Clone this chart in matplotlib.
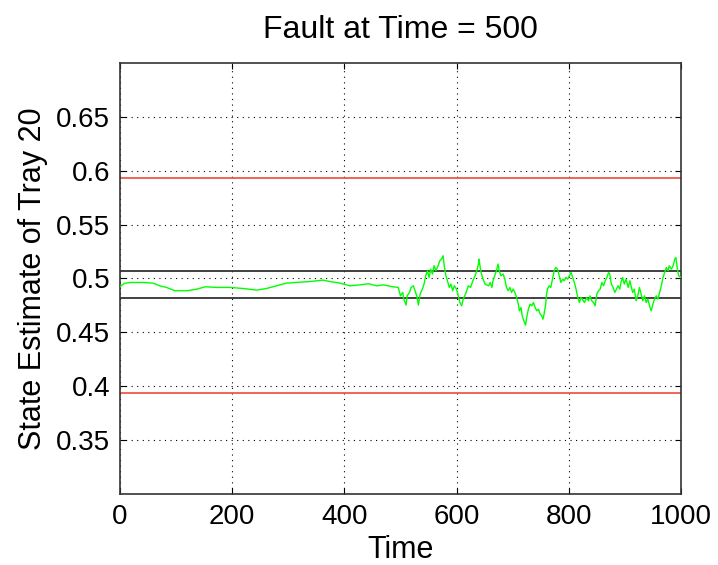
import matplotlib
matplotlib.use("Agg")
import matplotlib.pyplot as plt

plt.rcParams["font.family"] = ["Liberation Sans", "DejaVu Sans"]

# estimated state of tray 20 over time
time = [
    0, 8, 20, 42, 59, 71, 83, 98, 119, 137, 152, 172, 196, 220, 244, 261,
    279, 297, 315, 339, 362, 374, 392, 410, 428, 443, 458, 469, 487, 496,
    500, 504, 506, 510, 512, 516, 519, 523, 526, 529, 532, 535, 539, 542,
    545, 548, 551, 554, 557, 560, 563, 567, 570, 573, 576, 578, 581, 583,
    587, 590, 593, 596, 600, 603, 606, 609, 612, 617, 621, 625, 629, 633,
    636, 639, 640, 643, 647,
    651, 657, 660, 663, 665, 668, 671, 674, 676, 679, 683, 686, 689, 692,
    695, 698, 701, 704, 707, 710, 712, 715, 717, 720, 723, 725, 728, 731,
    734, 737, 740, 743, 746, 749, 752, 754, 756, 759, 760, 762, 765, 768,
    771, 774, 777, 780, 783, 786, 789, 792, 795, 798, 801, 804, 807, 810,
    813, 816, 819, 822,
    824, 828, 832, 835, 838, 841, 844, 847, 850, 853, 856, 859, 862, 865,
    868, 871, 873, 876, 879, 882, 885, 888, 891, 893, 896, 899, 902, 906,
    909, 911, 914, 917, 920, 923, 926, 929, 932, 935, 938, 941, 944, 947,
    950, 953, 956, 959, 962, 965, 968, 971, 974, 977, 979, 983, 986, 989,
    991, 994, 996, 1000,
]
estimate = [
    0.4923, 0.4956, 0.4963, 0.4963, 0.4957, 0.4932, 0.4917, 0.4886, 0.4886,
    0.4901, 0.4923, 0.4917, 0.4917, 0.4907, 0.4892, 0.4907, 0.4932, 0.4957,
    0.4963, 0.4972, 0.4985, 0.4972, 0.4957, 0.4932, 0.4941, 0.4951, 0.4932,
    0.4941, 0.4923, 0.4917,
    0.4839, 0.4870, 0.4809, 0.4753, 0.4839, 0.4870, 0.4917, 0.4932, 0.4886,
    0.4839, 0.4753, 0.4855, 0.4901, 0.4948, 0.5025, 0.5072, 0.5009, 0.5087,
    0.5041, 0.5118, 0.5072, 0.5118, 0.5164, 0.5180, 0.5211, 0.5118, 0.5025,
    0.4994, 0.4917, 0.4948, 0.4886, 0.4932, 0.4901, 0.4839, 0.4777, 0.4746,
    0.4809, 0.4870, 0.4932, 0.4917, 0.4979, 0.5025, 0.5072, 0.5134, 0.5180,
    0.5072, 0.4994,
    0.4948, 0.4932, 0.4963, 0.4917, 0.4979, 0.5025, 0.5072, 0.5134, 0.5072,
    0.5025, 0.5041, 0.4994, 0.4917, 0.4886, 0.4917, 0.4870, 0.4901, 0.4870,
    0.4824, 0.4762, 0.4700, 0.4731, 0.4653, 0.4607, 0.4567, 0.4638, 0.4715,
    0.4762, 0.4746, 0.4777, 0.4731, 0.4700, 0.4715, 0.4669, 0.4653, 0.4622,
    0.4669, 0.4762, 0.4839, 0.4901, 0.4932, 0.4917, 0.4994, 0.5072, 0.5102,
    0.5087, 0.5025, 0.4963, 0.4994, 0.4979, 0.5010, 0.4994, 0.5025, 0.5056,
    0.5010, 0.4963, 0.4901, 0.4824, 0.4777, 0.4824,
    0.4809, 0.4777, 0.4824, 0.4793, 0.4839, 0.4793, 0.4777, 0.4746, 0.4855,
    0.4886, 0.4901, 0.4963, 0.4932, 0.4979, 0.5010, 0.5056, 0.5041, 0.4948,
    0.4917, 0.4870, 0.4901, 0.4932, 0.4901, 0.4963, 0.5010, 0.4948, 0.4994,
    0.4917, 0.4979, 0.4932, 0.4870, 0.4901, 0.4793, 0.4839, 0.4917, 0.4855,
    0.4793, 0.4839, 0.4777, 0.4809, 0.4746, 0.4700, 0.4762, 0.4809, 0.4839,
    0.4809, 0.4870, 0.4932, 0.5010, 0.5056, 0.5102, 0.5072, 0.5118, 0.5087,
    0.5118, 0.5180, 0.5195, 0.5072, 0.5025, 0.5010,
]

# control limits: inner (black) and outer (red)
inner_limits = [0.4818, 0.5069]
outer_limits = [0.394, 0.593]

x_ticks = [0, 200, 400, 600, 800, 1000]
y_ticks = [0.35, 0.4, 0.45, 0.5, 0.55, 0.6, 0.65]
y_tick_labels = ["0.35", "0.4", "0.45", "0.5", "0.55", "0.6", "0.65"]

fig = plt.figure(figsize=(7.18, 5.65), dpi=100)
ax = fig.add_axes([0.1671, 0.1257, 0.7813, 0.7628])

ax.plot(time, estimate, color="#00ff00", linewidth=1.0, zorder=3)

for lim in outer_limits:
    ax.axhline(lim, color="#f04a3a", linewidth=1.2, zorder=2)
for lim in inner_limits:
    ax.axhline(lim, color="#333333", linewidth=1.3, zorder=2)

ax.set_xlim(0, 1000)
ax.set_ylim(0.3, 0.7)
ax.set_xticks(x_ticks)
ax.set_yticks(y_ticks)
ax.set_yticklabels(y_tick_labels)

ax.grid(True, color="black", linestyle=(0, (1, 4)), linewidth=0.8)
ax.tick_params(direction="in", length=4, width=0.8, labelsize=20,
               top=True, right=True, pad=7)
for spine in ax.spines.values():
    spine.set_color("#333333")
    spine.set_linewidth(1.2)

ax.set_title("Fault at Time = 500", fontsize=23, pad=18)
ax.set_xlabel("Time", fontsize=22, labelpad=4)
ax.set_ylabel("State Estimate of Tray 20", fontsize=22, labelpad=6)

fig.savefig("out.png", dpi=100)
